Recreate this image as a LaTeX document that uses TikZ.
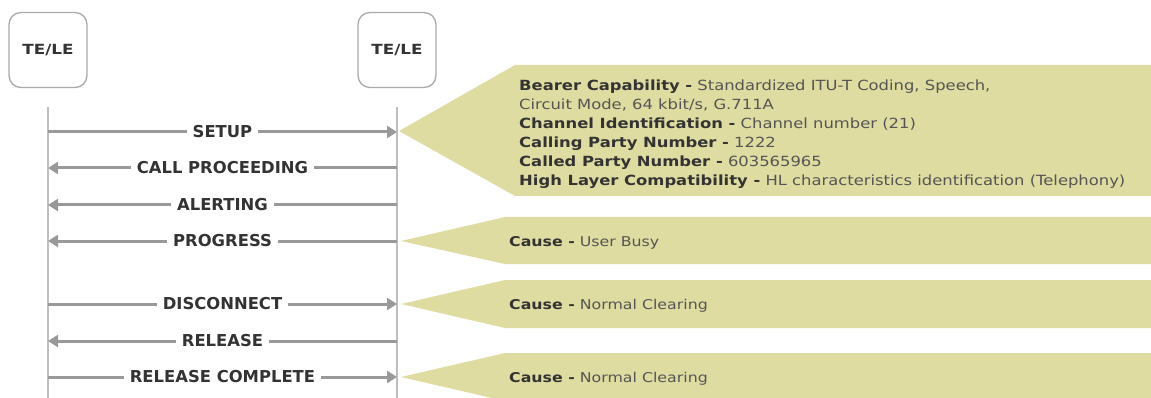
\documentclass[tikz,border=0pt]{standalone}
\usepackage{fontspec}
\setmainfont{DejaVu Sans}
\newfontfamily\callfont[FakeStretch=1.17]{DejaVu Sans}
\newfontfamily\hdrfont[FakeStretch=1.2]{DejaVu Sans}
\usetikzlibrary{arrows.meta,calc}
\definecolor{callout}{RGB}{222,220,160}
\definecolor{msggray}{RGB}{153,153,153}
\definecolor{lifegray}{RGB}{190,190,190}
\definecolor{boxgray}{RGB}{170,170,170}
\definecolor{txtdark}{RGB}{51,51,51}
\definecolor{txtreg}{RGB}{85,85,85}
\begin{document}
\begin{tikzpicture}[x=1pt,y=-1pt,
  entity/.style={draw=boxgray,line width=1.3pt,rounded corners=12pt,minimum width=78pt,minimum height=75pt,inner sep=0pt,font=\hdrfont\bfseries\fontsize{14}{16}\selectfont,text=txtdark},
  life/.style={draw=lifegray,line width=2pt},
  msg/.style={draw=msggray,line width=3pt,-{Triangle[length=10pt,width=12pt]}},
  lbl/.style={fill=white,inner xsep=6pt,inner ysep=2pt,font=\bfseries\fontsize{16.4}{19}\selectfont,text=txtdark},
  callshape/.style={fill=callout},
  bigtext/.style={anchor=north west,inner sep=0pt,font=\callfont\fontsize{14}{19}\selectfont,text=txtreg,align=left},
  causetext/.style={anchor=base west,inner sep=0pt,font=\callfont\fontsize{13.5}{16}\selectfont,text=txtreg}]
\clip (0,0) rectangle (1151,398);
\fill[white] (0,0) rectangle (1151,398);

% entities
\node[entity] (A) at (48,50) {TE/LE};
\node[entity] (B) at (397,50) {TE/LE};

% lifelines
\coordinate (Atop) at (48,107);
\coordinate (Btop) at (397,107);
\coordinate (Abot) at (48,400);
\coordinate (Bbot) at (397,400);
\draw[life] (Atop) -- (Abot);
\draw[life] (Btop) -- (Bbot);

% callouts
\fill[callshape] (399,131) -- (515,65) -- (1152,65) -- (1152,196) -- (515,196) -- cycle;
\fill[callshape] (401,241) -- (505,217) -- (1152,217) -- (1152,264) -- (505,264) -- cycle;
\fill[callshape] (401,304) -- (505,280) -- (1152,280) -- (1152,328) -- (505,328) -- cycle;
\fill[callshape] (401,377) -- (505,353) -- (1152,353) -- (1152,401) -- (505,401) -- cycle;

\node[bigtext] (info) at (519,80) {{\color{txtdark}\bfseries Bearer Capability -} Standardized ITU-T Coding, Speech,\\
Circuit Mode, 64 kbit/s, G.711A\\
{\color{txtdark}\bfseries Channel Identification -} Channel number (21)\\
{\color{txtdark}\bfseries Calling Party Number -} 1222\\
{\color{txtdark}\bfseries Called Party Number -} 603565965\\
{\color{txtdark}\bfseries High Layer Compatibility -} HL characteristics identification (Telephony)};
\node[causetext] (c1) at (509,246) {{\color{txtdark}\bfseries Cause -} User Busy};
\node[causetext] (c2) at (509,309) {{\color{txtdark}\bfseries Cause -} Normal Clearing};
\node[causetext] (c3) at (509,382) {{\color{txtdark}\bfseries Cause -} Normal Clearing};

% message points
\foreach \n/\y in {1/132,2/168,3/205,4/241,5/304,6/341,7/377}{
  \coordinate (L\n) at (48,\y);
  \coordinate (R\n) at (397,\y);
}
\draw[msg] (L1) -- node[lbl]{SETUP} (R1);
\draw[msg] (R2) -- node[lbl]{CALL PROCEEDING} (L2);
\draw[msg] (R3) -- node[lbl]{ALERTING} (L3);
\draw[msg] (R4) -- node[lbl]{PROGRESS} (L4);
\draw[msg] (L5) -- node[lbl]{DISCONNECT} (R5);
\draw[msg] (R6) -- node[lbl]{RELEASE} (L6);
\draw[msg] (L7) -- node[lbl]{RELEASE COMPLETE} (R7);
\end{tikzpicture}
\end{document}
